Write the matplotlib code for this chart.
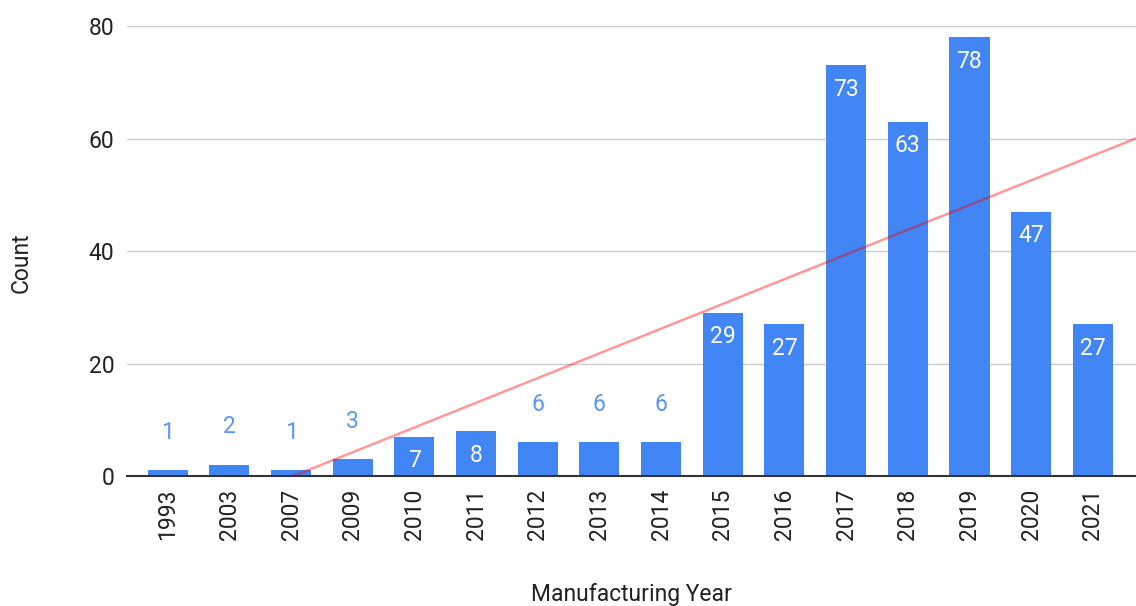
import numpy as np
from matplotlib import pyplot as plt

years = ['1993', '2003', '2007', '2009', '2010', '2011', '2012', '2013',
         '2014', '2015', '2016', '2017', '2018', '2019', '2020', '2021']
counts = [1, 2, 1, 3, 7, 8, 6, 6, 6, 29, 27, 73, 63, 78, 47, 27]

plt.rcParams['font.family'] = ['Roboto', 'DejaVu Sans']
FS = 16.5

fig = plt.figure(figsize=(11.36, 6.06), dpi=100)
ax = fig.add_axes([0.1118, 0.2145, 0.8882, 0.7426])

x = np.arange(len(years))
bars = ax.bar(x, counts, width=0.65, color='#4285F4', zorder=2)

# value labels: inside tall bars, above short ones
for xi, v in zip(x, counts):
    if v >= 7:
        ax.annotate(str(v), (xi, v), xytext=(0, -9), textcoords='offset points',
                    ha='center', va='top', color='white', fontsize=FS, zorder=4)
    else:
        ax.annotate(str(v), (xi, v), xytext=(0, 19), textcoords='offset points',
                    ha='center', va='bottom', color='#5A95F5', fontsize=FS, zorder=4)

# linear trendline across the whole plot width
xlim = (-0.66, 15.7)
slope, icpt = np.polyfit(x, counts, 1)
tx = np.array(xlim)
ax.plot(tx, slope * tx + icpt, color='red', alpha=0.4, lw=1.8, zorder=3)

ax.set_xlim(*xlim)
ax.set_ylim(0, 80)
ax.set_yticks([0, 20, 40, 60, 80])
ax.set_xticks(x)
ax.set_xticklabels(years, rotation=90)
ax.tick_params(length=0, labelsize=FS, labelcolor='#222222')
ax.tick_params(axis='y', pad=9)
ax.tick_params(axis='x', pad=9)
ax.grid(axis='y', color='#cccccc', lw=1, zorder=0)
for s in ['top', 'right', 'left']:
    ax.spines[s].set_visible(False)
ax.spines['bottom'].set_color('#333333')
ax.spines['bottom'].set_linewidth(1.5)
ax.spines['bottom'].set_zorder(5)

ax.set_ylabel('Count', fontsize=FS, color='#222222')
ax.yaxis.set_label_coords(-0.094, 0.473)
ax.set_xlabel('Manufacturing Year', fontsize=FS, color='#222222', labelpad=31)

fig.savefig('out.png', dpi=100)
